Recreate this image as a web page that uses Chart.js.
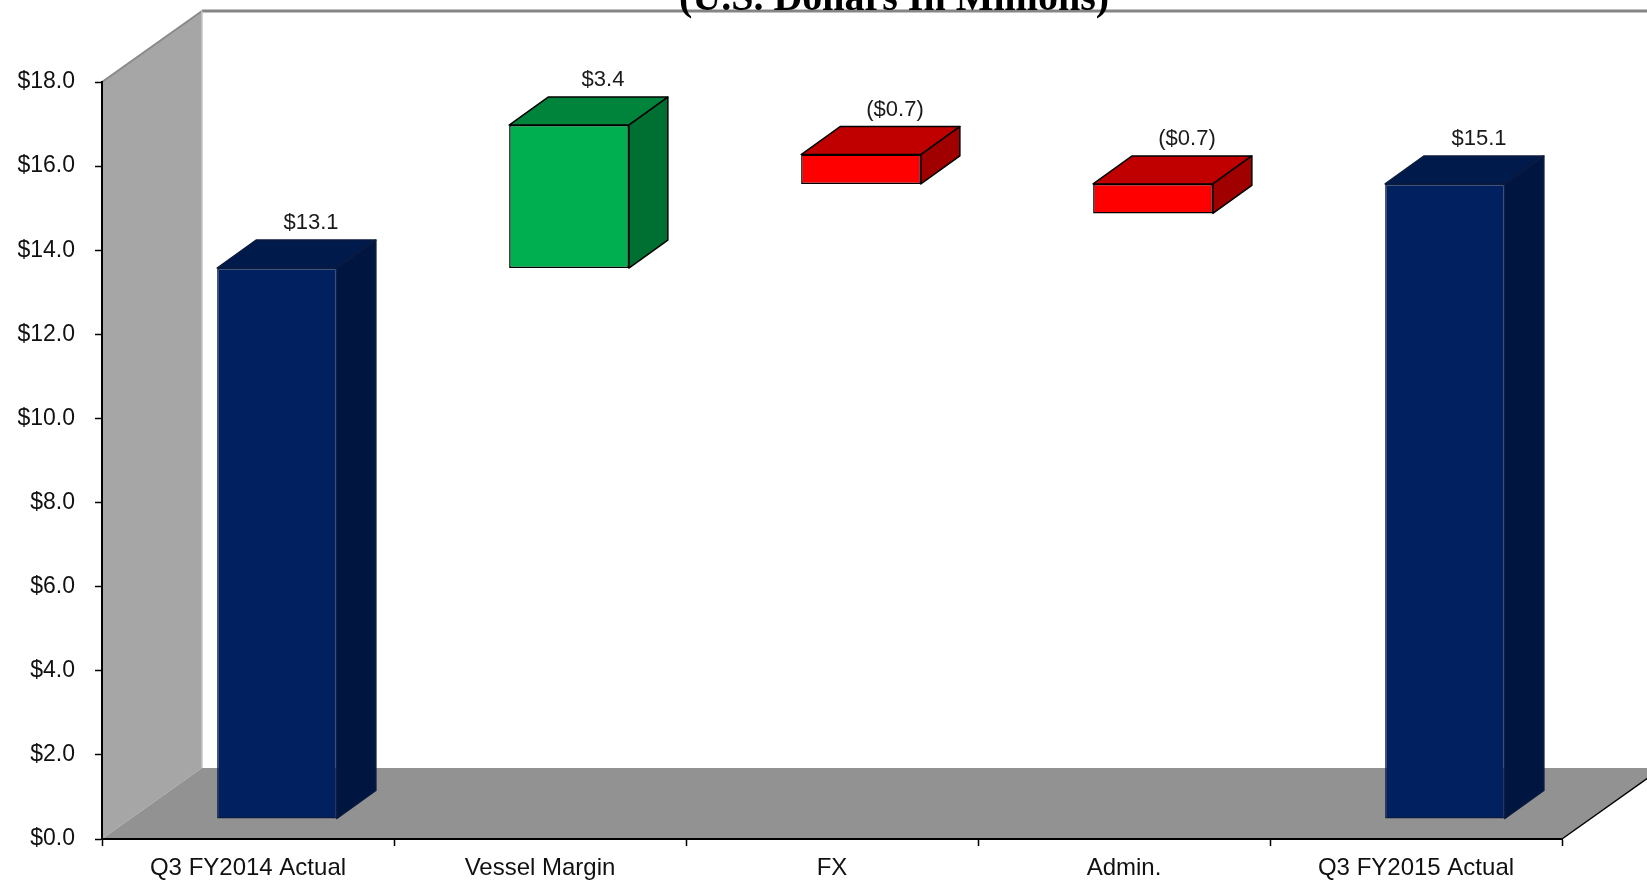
<!DOCTYPE html>
<html>
<head>
<meta charset="utf-8">
<title>Waterfall</title>
<script src="https://cdn.jsdelivr.net/npm/chart.js@4.4.0/dist/chart.umd.min.js"></script>
<style>
    html, body { margin: 0; padding: 0; background: #fff; }
    #wrap { width: 1647px; height: 880px; }
</style>
</head>
<body>
<div id="wrap"><canvas id="waterfallChart"></canvas></div>
<script>
// chart values
const categories = ['Q3 FY2014 Actual', 'Vessel Margin', 'FX', 'Admin.', 'Q3 FY2015 Actual'];
const barLows = [0, 13.1, 15.1, 14.4, 0];
const barHighs = [13.1, 16.5, 15.8, 15.1, 15.1];
const changeValues = [13.1, 3.4, -0.7, -0.7, 15.1];
const yMin = 0;
const yMax = 18;
const yStep = 2;
const titleText = '(U.S. Dollars In Millions)';

// colours: front, top, side, edge
const frontColours = ['#00205f', '#00b050', '#ff0000', '#ff0000', '#00205f'];
const topColours = ['#001a4c', '#00843c', '#c00000', '#c00000', '#001a4c'];
const sideColours = ['#001640', '#006f32', '#a00000', '#a00000', '#001640'];
const edgeColours = ['#0b1a3f', '#000000', '#000000', '#000000', '#0b1a3f'];

const sansFont = '"Liberation Sans", Arial, sans-serif';

// 3d offsets
const roomDepth = { x: 100, y: -71 };
const barShift = { x: 29, y: -20 };
const barDepth = { x: 39, y: -28 };

function formatChange(v) {
    if (v < 0) return '($' + Math.abs(v).toFixed(1) + ')';
    return '$' + v.toFixed(1);
}

// walls and floor behind the chart
const roomPlugin = {
    id: 'room',
    beforeDraw(chart) {
        const ctx = chart.ctx;
        const a = chart.chartArea;
        const W = chart.width;
        const bx = a.left + roomDepth.x;
        const by = a.bottom + roomDepth.y;
        const ty = a.top + roomDepth.y;
        ctx.save();

        // back wall top line
        ctx.strokeStyle = '#858585';
        ctx.lineWidth = 3;
        ctx.beginPath();
        ctx.moveTo(bx, ty);
        ctx.lineTo(W, ty);
        ctx.stroke();

        // left wall
        ctx.fillStyle = '#a6a6a6';
        ctx.beginPath();
        ctx.moveTo(a.left, a.top);
        ctx.lineTo(bx, ty);
        ctx.lineTo(bx, by);
        ctx.lineTo(a.left, a.bottom);
        ctx.closePath();
        ctx.fill();

        ctx.strokeStyle = '#8a8a8a';
        ctx.lineWidth = 2;
        ctx.beginPath();
        ctx.moveTo(a.left, a.top);
        ctx.lineTo(bx, ty);
        ctx.stroke();

        ctx.strokeStyle = '#c4c4c4';
        ctx.lineWidth = 1.5;
        ctx.beginPath();
        ctx.moveTo(bx, ty);
        ctx.lineTo(bx, by);
        ctx.stroke();

        // floor
        ctx.fillStyle = '#929292';
        ctx.beginPath();
        ctx.moveTo(a.left, a.bottom);
        ctx.lineTo(a.right, a.bottom);
        ctx.lineTo(a.right + roomDepth.x, by);
        ctx.lineTo(bx, by);
        ctx.closePath();
        ctx.fill();

        ctx.strokeStyle = '#000';
        ctx.lineWidth = 1.5;
        ctx.beginPath();
        ctx.moveTo(a.right, a.bottom);
        ctx.lineTo(a.right + roomDepth.x, by);
        ctx.stroke();

        ctx.restore();
    },
    afterDraw(chart) {
        const ctx = chart.ctx;
        const a = chart.chartArea;
        ctx.save();
        ctx.fillStyle = '#000';
        ctx.font = 'bold 40px "Liberation Serif", "Times New Roman", serif';
        ctx.textAlign = 'center';
        ctx.textBaseline = 'alphabetic';
        ctx.fillText(titleText, (a.left + a.right) / 2 + 62, a.top + roomDepth.y - 1);
        ctx.restore();
    }
};

// shifted bars with top and side faces
const boxPlugin = {
    id: 'boxes',
    beforeDatasetsDraw(chart) {
        chart.ctx.save();
        chart.ctx.translate(barShift.x, barShift.y);
    },
    afterDatasetsDraw(chart) {
        const ctx = chart.ctx;
        const meta = chart.getDatasetMeta(0);
        meta.data.forEach((bar, i) => {
            const p = bar.getProps(['x', 'y', 'base', 'width'], true);
            const L = p.x - p.width / 2;
            const R = p.x + p.width / 2;
            const top = Math.min(p.y, p.base);
            const bottom = Math.max(p.y, p.base);
            ctx.lineJoin = 'round';
            ctx.lineWidth = 1.5;
            ctx.strokeStyle = edgeColours[i];

            ctx.fillStyle = topColours[i];
            ctx.beginPath();
            ctx.moveTo(L, top);
            ctx.lineTo(L + barDepth.x, top + barDepth.y);
            ctx.lineTo(R + barDepth.x, top + barDepth.y);
            ctx.lineTo(R, top);
            ctx.closePath();
            ctx.fill();
            ctx.stroke();

            ctx.fillStyle = sideColours[i];
            ctx.beginPath();
            ctx.moveTo(R, top);
            ctx.lineTo(R + barDepth.x, top + barDepth.y);
            ctx.lineTo(R + barDepth.x, bottom + barDepth.y);
            ctx.lineTo(R, bottom);
            ctx.closePath();
            ctx.fill();
            ctx.stroke();

            // value label
            ctx.fillStyle = '#1a1a1a';
            ctx.font = '22px ' + sansFont;
            ctx.textAlign = 'center';
            ctx.textBaseline = 'middle';
            ctx.fillText(formatChange(changeValues[i]), p.x + 34, top + barDepth.y - 17);
        });
        ctx.restore();
    }
};

const ctx = document.getElementById('waterfallChart').getContext('2d');
const chart = new Chart(ctx, {
    type: 'bar',
    data: {
        labels: categories,
        datasets: [{
            data: barLows.map((low, i) => [low, barHighs[i]]),
            backgroundColor: frontColours,
            borderColor: edgeColours,
            borderWidth: 1.5,
            borderSkipped: false,
            barPercentage: 0.41,
            categoryPercentage: 1.0,
            clip: false
        }]
    },
    options: {
        responsive: true,
        maintainAspectRatio: false,
        animation: false,
        layout: { padding: { top: 82, right: 85, left: 0, bottom: 0 } },
        plugins: {
            legend: { display: false },
            tooltip: { enabled: false },
            title: { display: false }
        },
        scales: {
            x: {
                afterFit: s => { s.height = 41; },
                ticks: { padding: 8, color: '#111', font: { family: sansFont, size: 24 } },
                grid: { offset: true, drawOnChartArea: false, tickLength: 7, color: '#000', tickWidth: 1.5 },
                border: { color: '#000', width: 2 }
            },
            y: {
                min: yMin,
                max: yMax,
                afterFit: s => { s.width = 102; },
                ticks: {
                    stepSize: yStep,
                    padding: 20,
                    color: '#111',
                    font: { family: sansFont, size: 23 },
                    callback: v => '$' + Number(v).toFixed(1)
                },
                grid: { drawOnChartArea: false, tickLength: 7, color: '#000', tickWidth: 1.5 },
                border: { color: '#000', width: 2 }
            }
        }
    },
    plugins: [roomPlugin, boxPlugin]
});
</script>
</body>
</html>
